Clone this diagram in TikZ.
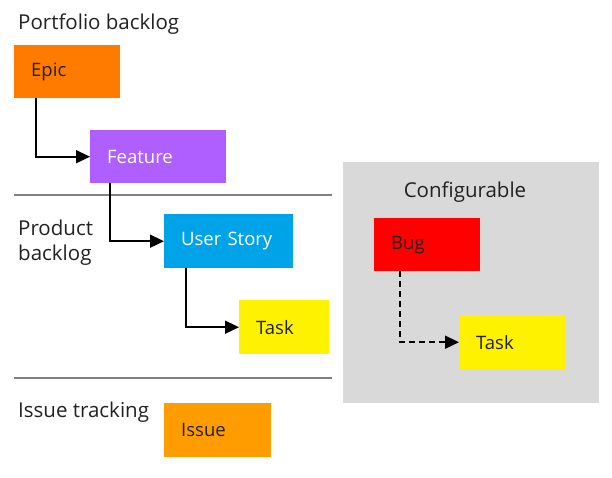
\documentclass[tikz,border=0pt]{standalone}
\usepackage{fontspec}
\setmainfont{Open Sans}
\usetikzlibrary{arrows.meta,positioning}
\definecolor{epicc}{HTML}{FF7B00}
\definecolor{featc}{HTML}{AF5FFF}
\definecolor{usc}{HTML}{00A2E8}
\definecolor{taskc}{HTML}{FFF200}
\definecolor{bugc}{HTML}{FF0000}
\definecolor{issc}{HTML}{FF9C00}
\definecolor{cfgc}{HTML}{D9D9D9}
\definecolor{sepc}{HTML}{808080}
\definecolor{txtc}{HTML}{222222}
\begin{document}
\begin{tikzpicture}[x=1pt,y=-1pt,
  font=\fontsize{18.5}{25}\selectfont,
  wi/.style={anchor=north west, inner ysep=0pt, inner xsep=17pt, align=left, text=txtc},
  arr/.style={draw=black, line width=1.6pt, -{Triangle[length=14pt,width=13pt]}},
  darr/.style={arr, dash pattern=on 6pt off 4pt},
  sep/.style={draw=sepc, line width=1.5pt},
  lbl/.style={anchor=base west, inner sep=0pt, align=left, text=txtc, font=\fontsize{20.5}{25}\selectfont}]
\useasboundingbox (0,0) rectangle (612,477);
\node[fill=cfgc, anchor=north west, minimum width=256pt, minimum height=241pt, inner sep=0pt] (cfg) at (343,162) {};
\node[lbl] (pb) at (18,29) {Portfolio backlog};
\node[lbl, anchor=north west] (prb) at (18,220) {Product\\backlog};
\node[lbl] (it) at (18,417) {Issue tracking};
\node[lbl, anchor=base] (cfgl) at (465,197) {Configurable};
\node[wi, fill=epicc, text width=72pt, minimum height=53pt] (epic) at (14,45) {Epic};
\node[wi, fill=featc, text=white, text width=102pt, minimum height=53pt] (feat) at (90,130) {Feature};
\node[wi, fill=usc, text=white, text width=95pt, minimum height=54pt] (us) at (164,214) {User Story};
\node[wi, fill=taskc, text width=56pt, minimum height=54pt] (task) at (239,300) {Task};
\node[wi, fill=issc, text width=73pt, minimum height=54pt] (issue) at (164,403) {Issue};
\node[wi, fill=bugc, text width=72pt, minimum height=53pt] (bug) at (374,218) {Bug};
\node[wi, fill=taskc, text width=72pt, minimum height=54pt] (task2) at (459,315) {Task};
\coordinate (s1a) at (14,195); \coordinate (s1b) at (332,195);
\coordinate (s2a) at (14,378); \coordinate (s2b) at (332,378);
\draw[sep] (s1a) -- (s1b);
\draw[sep] (s2a) -- (s2b);
\draw[arr] ([xshift=22pt]epic.south west) |- (feat.west);
\draw[arr] ([xshift=20pt]feat.south west) |- (us.west);
\draw[arr] ([xshift=22pt]us.south west) |- (task.west);
\draw[darr] ([xshift=26pt]bug.south west) |- (task2.west);
\end{tikzpicture}
\end{document}
